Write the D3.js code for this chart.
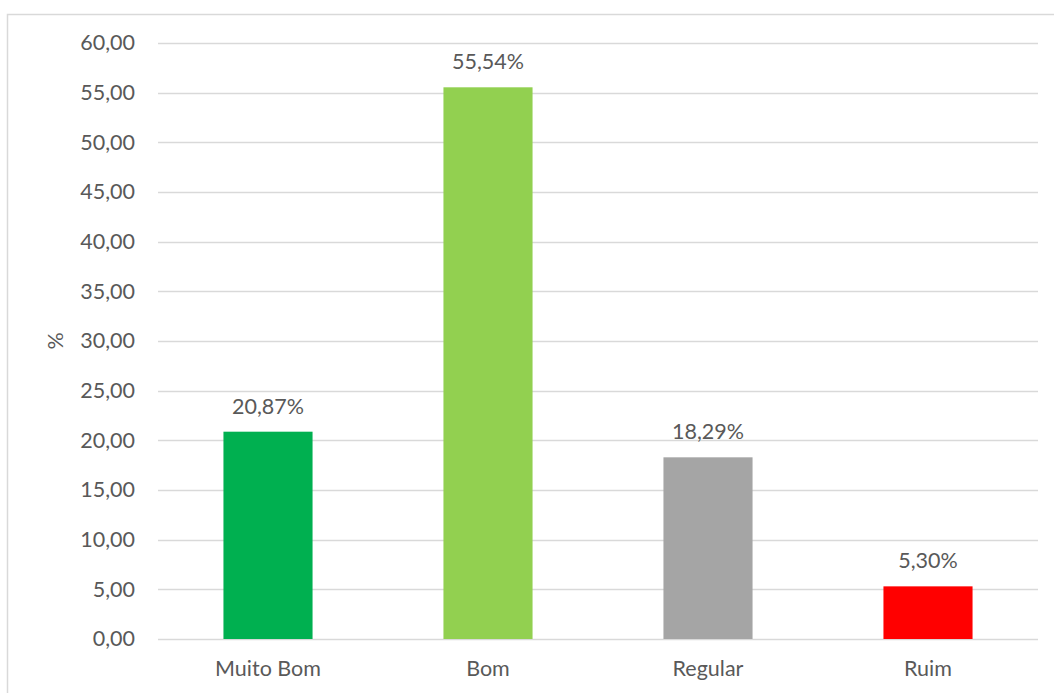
<!DOCTYPE html>
<html>
<head>
<meta charset="utf-8">
<script src="https://cdn.jsdelivr.net/npm/d3@7"></script>
<style>
  html, body { margin: 0; padding: 0; background: #fff; }
  svg { display: block; }
  text { font-family: Lato, "Open Sans", sans-serif; fill: #595959; }
</style>
</head>
<body>
<svg id="chart" width="1054" height="693"></svg>
<script>
const categories = ["Muito Bom", "Bom", "Regular", "Ruim"];
const values = [20.87, 55.54, 18.29, 5.30];
const labels = ["20,87%", "55,54%", "18,29%", "5,30%"];
const colors = ["#00B050", "#92D050", "#A5A5A5", "#FF0000"];
const yTicks = [0, 5, 10, 15, 20, 25, 30, 35, 40, 45, 50, 55, 60];

const svg = d3.select("#chart");
const W = 1054, H = 693;
const margin = { left: 158, right: 16, top: 43, bottom: 54 };
const FS = 21.5;

// outer border
svg.append("rect")
  .attr("x", 7.5).attr("y", 14.5)
  .attr("width", W + 10).attr("height", H + 10)
  .attr("fill", "none").attr("stroke", "#d9d9d9").attr("stroke-width", 1.5);

const x = d3.scaleBand()
  .domain(categories)
  .range([margin.left, W - margin.right])
  .paddingInner(0.595)
  .paddingOuter(0.2975);

const y = d3.scaleLinear()
  .domain([0, 60])
  .range([H - margin.bottom, margin.top]);

// gridlines
svg.append("g")
  .selectAll("line")
  .data(yTicks)
  .join("line")
  .attr("x1", margin.left).attr("x2", W - margin.right)
  .attr("y1", d => Math.round(y(d)) + 0.5).attr("y2", d => Math.round(y(d)) + 0.5)
  .attr("stroke", "#d9d9d9").attr("stroke-width", 1.3);

// y axis labels
const fmt = d => d.toFixed(2).replace(".", ",");
const yAxis = d3.axisLeft(y).tickValues(yTicks).tickFormat(fmt).tickSize(0).tickPadding(23);
const ya = svg.append("g").attr("transform", `translate(${margin.left},0)`).call(yAxis);
ya.select(".domain").remove();
ya.selectAll("text").attr("font-size", FS).attr("fill", "#595959")
  .style("font-family", "Lato, 'Open Sans', sans-serif");

// x axis labels
const xAxis = d3.axisBottom(x).tickSize(0).tickPadding(22);
const xa = svg.append("g").attr("transform", `translate(0,${H - margin.bottom})`).call(xAxis);
xa.select(".domain").remove();
xa.selectAll("text").attr("font-size", FS).attr("fill", "#595959")
  .style("font-family", "Lato, 'Open Sans', sans-serif");

// bars
svg.append("g")
  .selectAll("rect")
  .data(categories)
  .join("rect")
  .attr("x", d => x(d))
  .attr("width", x.bandwidth())
  .attr("y", (d, i) => y(values[i]))
  .attr("height", (d, i) => y(0) - y(values[i]))
  .attr("fill", (d, i) => colors[i]);

// data labels
svg.append("g")
  .selectAll("text")
  .data(categories)
  .join("text")
  .attr("x", d => x(d) + x.bandwidth() / 2)
  .attr("y", (d, i) => y(values[i]) - 18)
  .attr("text-anchor", "middle")
  .attr("font-size", FS)
  .attr("fill", "#404040")
  .text((d, i) => labels[i]);

// y axis title
svg.append("text")
  .attr("transform", `translate(63,${(y(0) + y(60)) / 2}) rotate(-90)`)
  .attr("text-anchor", "middle")
  .attr("font-size", FS)
  .text("%");
</script>
</body>
</html>
